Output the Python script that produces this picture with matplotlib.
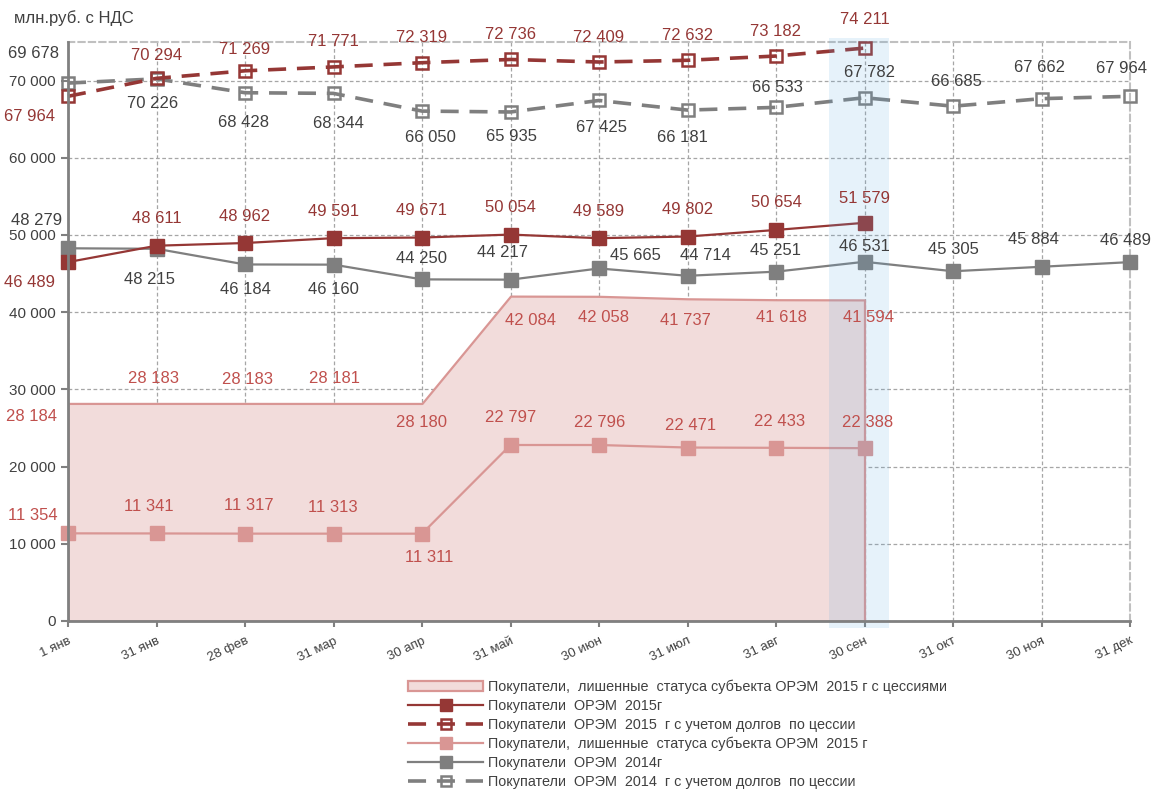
import matplotlib
matplotlib.use('Agg')
import matplotlib.pyplot as plt
from matplotlib.patches import Rectangle
from matplotlib.ticker import FuncFormatter

plt.rcParams['font.family'] = ['Liberation Sans', 'DejaVu Sans']

# даты (категории)
dates = ['1 янв', '31 янв', '28 фев', '31 мар', '30 апр', '31 май', '30 июн',
         '31 июл', '31 авг', '30 сен', '31 окт', '30 ноя', '31 дек']

# ряды, млн.руб. с НДС
lost_2015_cession = [28184, 28183, 28183, 28181, 28180, 42084, 42058, 41737, 41618, 41594]
orem_2015 = [46489, 48611, 48962, 49591, 49671, 50054, 49589, 49802, 50654, 51579]
orem_2015_cession = [67964, 70294, 71269, 71771, 72319, 72736, 72409, 72632, 73182, 74211]
lost_2015 = [11354, 11341, 11317, 11313, 11311, 22797, 22796, 22471, 22433, 22388]
orem_2014 = [48279, 48215, 46184, 46160, 44250, 44217, 45665, 44714, 45251, 46531,
             45305, 45884, 46489]
orem_2014_cession = [69678, 70226, 68428, 68344, 66050, 65935, 67425, 66181, 66533, 67782,
                     66685, 67662, 67964]

legend_names = [
    'Покупатели,  лишенные  статуса субъекта ОРЭМ  2015 г с цессиями',
    'Покупатели  ОРЭМ  2015г',
    'Покупатели  ОРЭМ  2015  г с учетом долгов  по цессии',
    'Покупатели,  лишенные  статуса субъекта ОРЭМ  2015 г',
    'Покупатели  ОРЭМ  2014г',
    'Покупатели  ОРЭМ  2014  г с учетом долгов  по цессии',
]

# сдвиги подписей в пикселях
off_lost_c = [(-36, -13), (-3, 25), (3, 24), (1, 25), (-1, -19), (20, -24), (5, -21), (-2, -22), (5, -18), (4, -18)]
off_o15 = [(-38, -20), (0, 27), (0, 27), (0, 27), (0, 27), (0, 27), (0, 27), (0, 27), (0, 27), (0, 24)]
off_o15c = [(-38, -20), (0, 23), (0, 21), (0, 25), (0, 25), (0, 25), (0, 25), (0, 25), (0, 25), (0, 29)]
off_lost = [(-35, 18), (-8, 27), (4, 28), (-1, 26), (7, -24), (0, 28), (1, 23), (3, 22), (4, 26), (3, 26)]
off_o14 = [(-31, 28), (-7, -31), (0, -25), (0, -25), (0, 21), (-8, 27), (36, 13), (18, 20),
           (0, 21), (0, 15), (0, 22), (-8, 27), (-5, 22)]
off_o14c = [(-35, 30), (-4, -25), (-1, -30), (5, -30), (8, -26), (1, -25), (3, -27), (-5, -27),
            (1, 20), (5, 25), (3, 25), (-2, 31), (-9, 28)]

dark_red = '#953735'
pink = '#d99694'
pink_fill = '#f2dcdb'
gray = '#7f7f7f'
txt_gray = '#404040'
txt_red = '#c0504d'

fig = plt.figure(figsize=(11.53, 7.93), dpi=100)
ax = fig.add_axes([68 / 1153, 1 - 621 / 793, (1130 - 68) / 1153, (621 - 42) / 793])

x13 = list(range(len(dates)))
x10 = x13[:len(orem_2015)]

area = ax.fill_between(x10, 0, lost_2015_cession, facecolor=pink_fill, edgecolor=pink,
                       linewidth=1.6, zorder=1, label=legend_names[0])

l1, = ax.plot(x10, orem_2015, color=dark_red, lw=1.6, marker='s', ms=10,
              zorder=4, clip_on=False, label=legend_names[1])
l2, = ax.plot(x10, orem_2015_cession, color=dark_red, lw=2.6, dashes=(5, 3), marker='s', ms=9,
              mfc='none', mew=1.8, zorder=4, clip_on=False, label=legend_names[2])
l3, = ax.plot(x10, lost_2015, color=pink, lw=1.6, marker='s', ms=10,
              zorder=3, clip_on=False, label=legend_names[3])
l4, = ax.plot(x13, orem_2014, color=gray, lw=1.6, marker='s', ms=10,
              zorder=3, clip_on=False, label=legend_names[4])
l5, = ax.plot(x13, orem_2014_cession, color=gray, lw=2.6, dashes=(5, 3), marker='s', ms=9,
              mfc='none', mew=1.8, zorder=3, clip_on=False, label=legend_names[5])

# выделение текущей даты
hl = 9
ax.add_patch(Rectangle((hl - 0.4, -900), 0.68, 76400, facecolor='#5aa8de', alpha=0.15,
                       edgecolor='none', zorder=4.5, clip_on=False))


def fmt(v):
    return '{:,}'.format(v).replace(',', ' ')


def put_labels(xs, vals, offs, color):
    for x, v, (dx, dy) in zip(xs, vals, offs):
        ax.annotate(fmt(v), (x, v), xytext=(dx, dy), textcoords='offset pixels',
                    ha='center', va='center', color=color, fontsize=12, zorder=6,
                    annotation_clip=False)


put_labels(x10, lost_2015_cession, off_lost_c, txt_red)
put_labels(x10, orem_2015, off_o15, dark_red)
put_labels(x10, orem_2015_cession, off_o15c, dark_red)
put_labels(x10, lost_2015, off_lost, txt_red)
put_labels(x13, orem_2014, off_o14, txt_gray)
put_labels(x13, orem_2014_cession, off_o14c, txt_gray)

ax.set_xlim(0, 12)
ax.set_ylim(0, 75000)
ax.set_yticks(range(0, 75000, 10000))
ax.yaxis.set_major_formatter(FuncFormatter(lambda v, p: fmt(int(v))))
ax.set_xticks(x13)
ax.set_xticklabels(dates, rotation=25, ha='right', rotation_mode='anchor')

ax.tick_params(axis='y', length=5, width=1.5, color='#808080', labelsize=11, labelcolor=txt_gray, pad=4)
ax.tick_params(axis='x', length=4, width=1.5, color='#808080', labelsize=9.5, labelcolor=txt_gray, pad=6)

ax.set_axisbelow(True)
ax.grid(True, color='#a6a6a6', linestyle=(0, (3, 2)), linewidth=0.9)

for s in ['left', 'bottom']:
    ax.spines[s].set_color('#808080')
    ax.spines[s].set_linewidth(2)
    ax.spines[s].set_zorder(5)
for s in ['top', 'right']:
    ax.spines[s].set_color('#c0c0c0')
    ax.spines[s].set_linewidth(1.5)
    ax.spines[s].set_linestyle((0, (3, 2)))

fig.text(14 / 1153, 1 - 18 / 793, 'млн.руб. с НДС', fontsize=12, color=txt_gray,
         ha='left', va='center')

fig.legend(handles=[area, l1, l2, l3, l4, l5], loc='upper left',
           bbox_to_anchor=(408 / 1153, 1 - 680 / 793), frameon=False, fontsize=10.4,
           labelspacing=0.33, handlelength=5.2, handletextpad=0.35, borderpad=0,
           borderaxespad=0, markerscale=0.8, labelcolor=txt_gray)

fig.savefig('out.png', dpi=100)
